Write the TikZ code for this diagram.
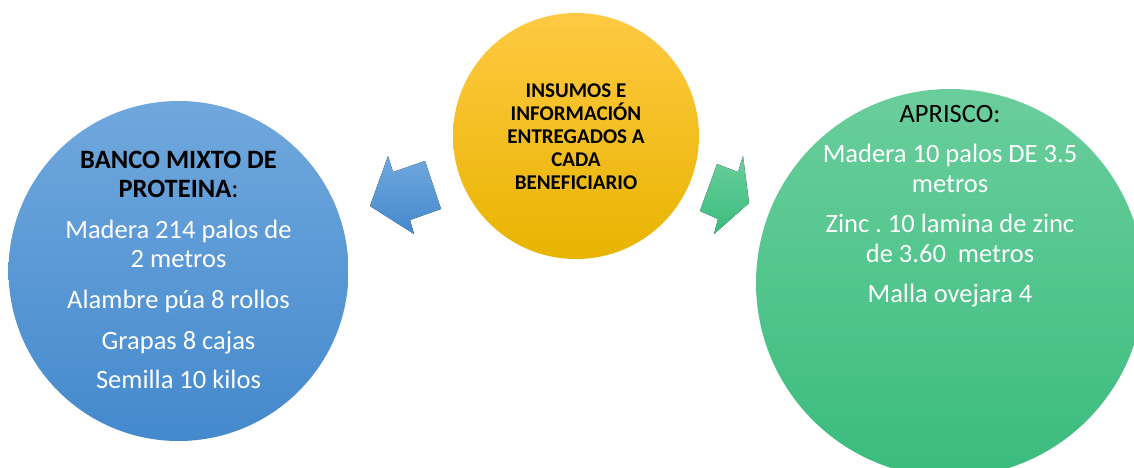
\documentclass[tikz,border=0pt]{standalone}
\usepackage{fontspec}
\setmainfont{Carlito}
\frenchspacing
\definecolor{bluetop}{RGB}{112,168,221}
\definecolor{bluebot}{RGB}{68,137,205}
\definecolor{yeltop}{RGB}{255,201,66}
\definecolor{yelmid}{RGB}{255,192,0}
\definecolor{yelbot}{RGB}{232,180,0}
\definecolor{grntop}{RGB}{106,206,156}
\definecolor{grnbot}{RGB}{58,188,126}
\tikzset{
  bubble/.style={circle, inner sep=0pt, draw=none},
  bluefill/.style={top color=bluetop, bottom color=bluebot},
  yelfill/.style={top color=yeltop, middle color=yelmid, bottom color=yelbot},
  grnfill/.style={top color=grntop, bottom color=grnbot},
  txt/.style={anchor=base, inner sep=0pt, text=white, font=\fontsize{26.5}{29}\selectfont},
  hdr/.style={anchor=base, inner sep=0pt, text=black, font=\fontsize{26.5}{29}\selectfont},
  ytxt/.style={anchor=base, inner sep=0pt, text=black, font=\fontsize{21}{23}\selectfont\bfseries}
}
\begin{document}
\begin{tikzpicture}[x=1pt, y=-1pt]
\useasboundingbox (0,0) rectangle (1134,467);
\clip (0,0) rectangle (1134,467);
% circles
\node[bubble, bluefill, minimum size=340pt] (blue) at (178.5,271) {};
\node[bubble, yelfill, minimum size=246pt] (yellow) at (576,136) {};
\node[bubble, grnfill, minimum size=388pt] (green) at (950,283) {};
% block arrows
\fill[bluefill] (388,156) -- (393,172) -- (425,161) -- (441,209) -- (410,220) -- (414,234) -- (370,206) -- cycle;
\fill[grnfill] (717,164) -- (738,172) -- (743,156) -- (749,203) -- (714,234) -- (718,219) -- (700,211) -- cycle;
% yellow text
\node[ytxt] (y1) at (576,97) {INSUMOS E};
\node[ytxt] (y2) at (576,120) {INFORMACIÓN};
\node[ytxt] (y3) at (576,143) {ENTREGADOS A};
\node[ytxt] (y4) at (576,166) {CADA};
\node[ytxt] (y5) at (576,189) {BENEFICIARIO};
% blue text
\node[hdr] (b1) at (178.5,168) {\bfseries BANCO MIXTO DE};
\node[hdr] (b2) at (178.5,197) {\textbf{PROTEINA}:};
\node[txt] (b3) at (178.5,238) {Madera 214 palos de};
\node[txt] (b4) at (178.5,267) {2 metros};
\node[txt] (b5) at (178.5,308) {Alambre púa 8 rollos};
\node[txt] (b6) at (178.5,349) {Grapas 8 cajas};
\node[txt] (b7) at (178.5,388) {Semilla 10 kilos};
% green text
\node[hdr] (g1) at (950,122) {APRISCO:};
\node[txt] (g2) at (950,162) {Madera 10 palos DE 3.5};
\node[txt] (g3) at (950,192) {metros};
\node[txt] (g4) at (950,232) {Zinc . 10 lamina de zinc};
\node[txt] (g5) at (950,262) {de 3.60\ \ metros};
\node[txt] (g6) at (950,302) {Malla ovejara 4};
\end{tikzpicture}
\end{document}
